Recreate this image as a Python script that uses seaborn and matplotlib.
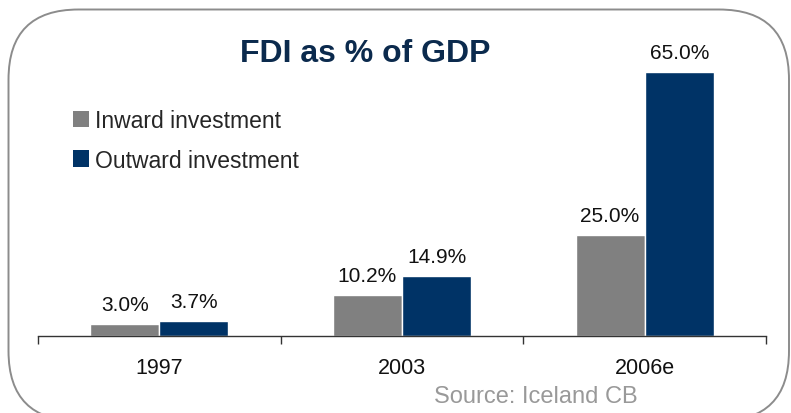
import seaborn as sns
import pandas as pd
import matplotlib.pyplot as plt
from matplotlib.patches import FancyBboxPatch, Patch

# Data
years = ["1997", "2003", "2006e"]
inward = [3.0, 10.2, 25.0]
outward = [3.7, 14.9, 65.0]
series = ["Inward investment", "Outward investment"]
colors = ["#808080", "#003366"]

df = pd.DataFrame({
    "year": years * 2,
    "value": inward + outward,
    "series": [series[0]] * 3 + [series[1]] * 3,
})

sns.set_style("white")
plt.rcParams['font.family'] = ['Liberation Sans', 'DejaVu Sans']

W, H = 791, 414
fig = plt.figure(figsize=(W / 100, H / 100), dpi=100)

# Rounded frame in pixel coordinates (y up); its bottom edge falls just below the image
bg = fig.add_axes([0, 0, 1, 1])
bg.set_xlim(0, W)
bg.set_ylim(0, H)
bg.axis("off")
bg.add_patch(FancyBboxPatch((8.5, -8), 780.5, H - 10.5 + 8, boxstyle="round,pad=0,rounding_size=70",
                            fc="none", ec="#8c8c8c", lw=1.4, clip_on=True))

# Plot area: axis line at y=337, from x=38 to x=766
px_per_unit = 4.06
ymax = 70
ax_h = ymax * px_per_unit
ax = fig.add_axes([38 / W, 1 - 337 / H, (766 - 38) / W, ax_h / H])
ax.patch.set_alpha(0)

sns.barplot(data=df, x="year", y="value", hue="series", palette=colors,
            width=0.57, saturation=1, ax=ax, legend=False)

for cont in ax.containers:
    ax.bar_label(cont, fmt="%.1f%%", padding=7, fontsize=15, color="#111111")

ax.set_xlim(-0.5, 2.5)
ax.set_ylim(0, ymax)
ax.set_xlabel("")
ax.set_ylabel("")
ax.set_yticks([])
for s in ["top", "right", "left"]:
    ax.spines[s].set_visible(False)
ax.spines["bottom"].set_color("#333333")
ax.spines["bottom"].set_linewidth(1.0)
ax.set_xticks([-0.5, 0.5, 1.5, 2.5], minor=True)
ax.tick_params(axis="x", which="major", length=0, pad=15, labelsize=15.5, labelcolor="#111111")
ax.tick_params(axis="x", which="minor", length=6, width=1, color="#333333", direction="out", bottom=True)

# Title
fig.text(365 / W, 1 - 54 / H, "FDI as % of GDP", ha="center", va="center",
         fontsize=23, fontweight="bold", color="#0b2a4d")

# Legend
handles = [Patch(facecolor=c, edgecolor="none") for c in colors]
fig.legend(handles, series, loc="upper left", bbox_to_anchor=(73 / W, 1 - 110 / H),
           frameon=False, fontsize=16.5, handlelength=0.7, handleheight=0.7,
           handletextpad=0.26, labelspacing=0.72, borderaxespad=0, borderpad=0)

# Source
fig.text(536 / W, 1 - 397 / H, "Source: Iceland CB", ha="center", va="center",
         fontsize=17, color="#999999")

fig.savefig("out.png", dpi=100)
